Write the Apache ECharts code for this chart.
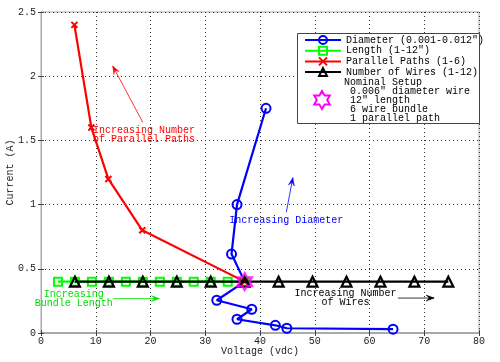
<!DOCTYPE html>
<html><head><meta charset="utf-8">
<script src="https://cdn.jsdelivr.net/npm/echarts@6/dist/echarts.min.js"></script>
<style>html,body{margin:0;padding:0;background:#fff}#c{width:500px;height:362px}</style>
</head><body><div id="c"></div>
<script>
// ---- data ----
const diameterV = [41.1, 35.8, 34.8, 37.2, 32.1, 38.5, 35.8, 42.8, 44.9, 64.3];
const diameterI = [1.75, 1.00, 0.615, 0.40, 0.255, 0.185, 0.107, 0.06, 0.037, 0.03];
const lengthV = [3.1, 6.2, 9.3, 12.4, 15.5, 18.6, 21.7, 24.8, 27.9, 31.0, 34.1, 37.2];
const lengthI = [0.4, 0.4, 0.4, 0.4, 0.4, 0.4, 0.4, 0.4, 0.4, 0.4, 0.4, 0.4];
const pathsV = [6.1, 9.2, 12.3, 18.5, 37.2];
const pathsI = [2.4, 1.6, 1.2, 0.8, 0.4];
const wiresV = [6.2, 12.4, 18.6, 24.8, 31.0, 37.2, 43.4, 49.6, 55.8, 62.0, 68.2, 74.4];
const wiresI = [0.4, 0.4, 0.4, 0.4, 0.4, 0.4, 0.4, 0.4, 0.4, 0.4, 0.4, 0.4];
const nominalV = [37.2];
const nominalI = [0.4];
const seriesNames = ['Diameter (0.001-0.012")', 'Length (1-12")', 'Parallel Paths (1-6)', 'Number of Wires (1-12)'];
const nominalText = ['Nominal Setup', ' 0.006" diameter wire', ' 12" length', ' 6 wire bundle', ' 1 parallel path'];
const xTicks = {min: 0, max: 80, step: 10};
const yTicks = {min: 0, max: 2.5, step: 0.5};
// annotations (data coordinates)
const annotations = [
  {text: 'Increasing Number\nof Parallel Paths', color: '#ff0000', at: [9.5, 1.545], align: 'left', from: [18.6, 1.64], to: [13.1, 2.08]},
  {text: 'Increasing Diameter', color: '#0000ff', at: [44.8, 0.88], align: 'center', from: [44.8, 0.94], to: [46.0, 1.21]},
  {text: 'Increasing\nBundle Length', color: '#00e000', at: [6.0, 0.268], align: 'center', from: [13.2, 0.268], to: [21.6, 0.268]},
  {text: 'Increasing Number\nof Wires', color: '#000000', at: [55.6, 0.272], align: 'center', from: [65.2, 0.272], to: [71.8, 0.272]}
];

const zip = (a, b) => a.map((v, i) => [v, b[i]]);
const FONT = '"Liberation Mono", "Courier New", monospace';
const hexPts = (cx, cy, R) => {
  const r = R / Math.sqrt(3), pts = [];
  for (let k = 0; k < 12; k++) {
    const ang = k * Math.PI / 6, rad = k % 2 === 0 ? R : r;
    pts.push([cx + rad * Math.sin(ang), cy - rad * Math.cos(ang)]);
  }
  return pts;
};
const hexPath = 'path://' + hexPts(0, 0, 10).map((p, i) => (i ? 'L' : 'M') + p[0].toFixed(3) + ',' + p[1].toFixed(3)).join(' ') + ' Z';

const chart = echarts.init(document.getElementById('c'), null, {renderer: 'canvas'});
const axisCommon = {
  axisLine: {lineStyle: {color: '#666', width: 1}},
  axisTick: {inside: true, length: 3, lineStyle: {color: '#444'}},
  axisLabel: {fontFamily: FONT, fontSize: 10, color: '#222'},
  nameTextStyle: {fontFamily: FONT, fontSize: 10, color: '#222'},
  nameMoveOverlap: false
};
const option = {
  animation: false,
  backgroundColor: '#fff',
  grid: {left: 41, right: 21, top: 12, bottom: 29, show: true, borderColor: '#aaa', borderWidth: 1,
    containLabel: false, outerBoundsMode: 'none'},
  xAxis: [
    Object.assign({}, axisCommon, {
      type: 'value', min: xTicks.min, max: xTicks.max, interval: xTicks.step,
      name: 'Voltage (vdc)', nameLocation: 'middle', nameGap: 13,
      axisLabel: Object.assign({}, axisCommon.axisLabel, {margin: 3}),
      splitLine: {show: true, lineStyle: {color: '#333', type: [1, 3], width: 1}}
    }),
    {type: 'value', position: 'top', min: xTicks.min, max: xTicks.max, interval: xTicks.step,
      axisLine: {show: true, lineStyle: {color: '#aaa', width: 2}}, axisTick: {inside: true, length: 3, lineStyle: {color: '#444'}},
      axisLabel: {show: false}, splitLine: {show: false}}
  ],
  yAxis: [
    Object.assign({}, axisCommon, {
      type: 'value', min: yTicks.min, max: yTicks.max, interval: yTicks.step,
      name: 'Current (A)', nameLocation: 'middle', nameGap: 26,
      axisLabel: Object.assign({}, axisCommon.axisLabel, {margin: 5}),
      splitLine: {show: true, lineStyle: {color: '#333', type: [1, 3], width: 1}}
    }),
    {type: 'value', position: 'right', min: yTicks.min, max: yTicks.max, interval: yTicks.step,
      axisLine: {show: true, lineStyle: {color: '#aaa', width: 1}}, axisTick: {inside: true, length: 3, lineStyle: {color: '#444'}},
      axisLabel: {show: false}, splitLine: {show: false}}
  ],
  legend: {
    show: true, orient: 'vertical', left: 304, top: 35, z: 20,
    itemWidth: 36, itemHeight: 10, itemGap: 0.7, padding: 0,
    textStyle: {fontFamily: FONT, fontSize: 10, color: '#000', lineHeight: 10},
    data: seriesNames
  },
  series: [
    {name: seriesNames[0], type: 'line', data: zip(diameterV, diameterI), z: 2,
      symbol: 'circle', symbolSize: 9,
      lineStyle: {color: '#0000ff', width: 2.2},
      itemStyle: {color: 'rgba(255,255,255,0)', borderColor: '#0000ff', borderWidth: 2}},
    {name: seriesNames[1], type: 'line', data: zip(lengthV, lengthI), z: 3,
      symbol: 'rect', symbolSize: 8,
      lineStyle: {color: '#00ff00', width: 2.2},
      itemStyle: {color: 'rgba(255,255,255,0)', borderColor: '#00ff00', borderWidth: 2}},
    {name: seriesNames[2], type: 'line', data: zip(pathsV, pathsI), z: 4,
      symbol: 'path://M0,0L10,10M10,0L0,10', symbolSize: 6,
      lineStyle: {color: '#ff0000', width: 2.2},
      itemStyle: {color: 'rgba(255,255,255,0)', borderColor: '#ff0000', borderWidth: 2}},
    {name: seriesNames[3], type: 'line', data: zip(wiresV, wiresI), z: 5,
      symbol: 'triangle', symbolSize: 10,
      lineStyle: {color: '#000000', width: 2.2},
      itemStyle: {color: 'rgba(255,255,255,0)', borderColor: '#000000', borderWidth: 2.2}},
    {name: 'Nominal', type: 'scatter', data: zip(nominalV, nominalI), z: 6,
      symbol: hexPath, symbolSize: 17, symbolKeepAspect: true,
      itemStyle: {color: 'rgba(255,255,255,0)', borderColor: '#ff00ff', borderWidth: 2.2}}
  ]
};
chart.setOption(option);

// ---- annotations and legend extras ----
const px = p => chart.convertToPixel({gridIndex: 0}, p);
const elements = [];
elements.push({type: 'rect', shape: {x: 297.5, y: 33.5, width: 182, height: 90}, z: 10,
  style: {fill: '#fff', stroke: '#444', lineWidth: 1}});
elements.push({type: 'polygon', shape: {points: hexPts(322, 100, 9)}, z: 21,
  style: {fill: 'none', stroke: '#ff00ff', lineWidth: 2}});
elements.push({type: 'text', x: 344, y: 78, z: 21,
  style: {text: nominalText.join('\n'), font: '10px ' + FONT, fill: '#000', lineHeight: 9, textAlign: 'left', textVerticalAlign: 'top'}});
annotations.forEach(a => {
  const t = px(a.at), p0 = px(a.from), p1 = px(a.to);
  elements.push({type: 'text', x: t[0], y: t[1], z: 21,
    style: {text: a.text, font: '10px ' + FONT, fill: a.color, lineHeight: 8.7, textAlign: a.align, textVerticalAlign: 'middle'}});
  elements.push({type: 'line', shape: {x1: p0[0], y1: p0[1], x2: p1[0], y2: p1[1]}, z: 21,
    style: {stroke: a.color, lineWidth: 0.8}});
  const ang = Math.atan2(p1[1] - p0[1], p1[0] - p0[0]);
  const L = 8, W = 3;
  const bx = p1[0] - L * Math.cos(ang), by = p1[1] - L * Math.sin(ang);
  const mx = p1[0] - L * 0.6 * Math.cos(ang), my = p1[1] - L * 0.6 * Math.sin(ang);
  elements.push({type: 'polygon', z: 21, shape: {points: [
    [p1[0], p1[1]],
    [bx + W * Math.sin(ang), by - W * Math.cos(ang)],
    [mx, my],
    [bx - W * Math.sin(ang), by + W * Math.cos(ang)]
  ]}, style: {fill: a.color, stroke: a.color, lineWidth: 0.5}});
});
chart.setOption({graphic: {elements: elements}});
</script>
</body></html>
